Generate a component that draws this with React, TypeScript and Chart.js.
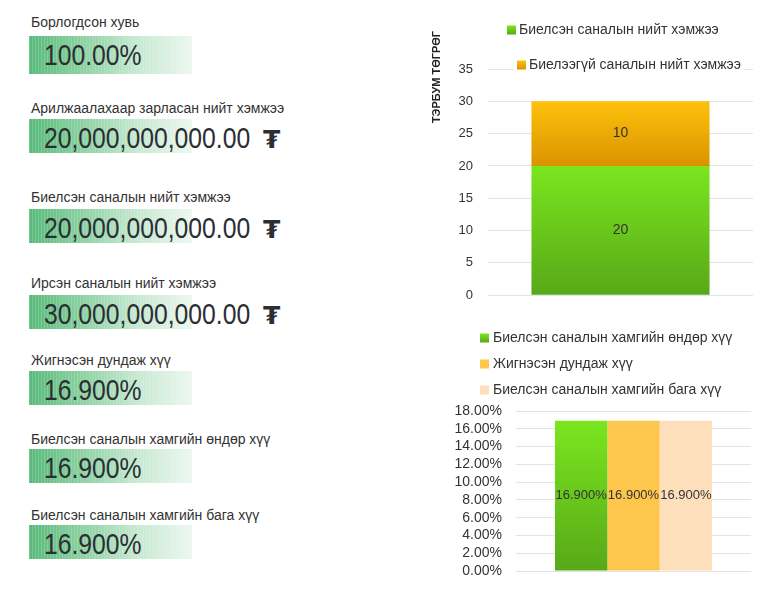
import React, { useEffect, useRef } from 'react';
import { Chart, registerables } from 'chart.js';

Chart.register(...registerables);

const FONT = "'Liberation Sans', Arial, sans-serif";

// ---------- KPI data ----------
const kpiLabels = [
  'Борлогдсон хувь',
  'Арилжаалахаар зарласан нийт хэмжээ',
  'Биелсэн саналын нийт хэмжээ',
  'Ирсэн саналын нийт хэмжээ',
  'Жигнэсэн дундаж хүү',
  'Биелсэн саналын хамгийн өндөр хүү',
  'Биелсэн саналын хамгийн бага хүү',
];
const kpiValues = [
  '100.00%',
  '20,000,000,000.00',
  '20,000,000,000.00',
  '30,000,000,000.00',
  '16.900%',
  '16.900%',
  '16.900%',
];
const kpiUnits = ['', '₮', '₮', '₮', '', '', ''];

// ---------- Chart 1 data (stacked volume) ----------
const volumeCategories = [''];
const volumeAxisTitle = 'ТЭРБУМ ТӨГРӨГ';
const volumeSeriesNames = ['Биелсэн саналын нийт хэмжээ', 'Биелээгүй саналын нийт хэмжээ'];
const fulfilledVolume = [20];
const unfulfilledVolume = [10];
const volumeAxisMax = 35;
const volumeAxisStep = 5;

// ---------- Chart 2 data (rates) ----------
const rateCategories = [''];
const rateSeriesNames = [
  'Биелсэн саналын хамгийн өндөр хүү',
  'Жигнэсэн дундаж хүү',
  'Биелсэн саналын хамгийн бага хүү',
];
const highestRate = [16.9];
const weightedAvgRate = [16.9];
const lowestRate = [16.9];
const rateAxisMax = 18;
const rateAxisStep = 2;

// ---------- layout constants ----------
const KPI_LABEL_BASELINES = [26.7, 113.3, 202.3, 288.3, 365, 444, 520];
const KPI_BOX_TOPS = [36, 119, 209, 295, 371, 449, 525];
const KPI_BOX_HEIGHTS = [38, 34, 34, 34, 34, 34, 34];
const BOX_BG =
  'repeating-linear-gradient(90deg, rgba(255,255,255,0.16) 0px, rgba(255,255,255,0.16) 1px, rgba(255,255,255,0) 1px, rgba(255,255,255,0) 3px), ' +
  'linear-gradient(90deg, rgb(88,186,122) 0%, rgb(135,207,157) 30%, rgb(196,232,208) 65%, rgb(236,247,239) 100%)';

const GREEN_TOP = '#7be61f';
const GREEN_BOTTOM = '#58a818';
const ORANGE_TOP = '#fdc20c';
const ORANGE_BOTTOM = '#da9300';
const YELLOW = '#fec64d';
const PEACH = '#fddfbb';

const C1 = { left: 420, top: 0, width: 354, height: 318 };
const C2 = { left: 420, top: 318, width: 354, height: 277 };

const barGradient = (top: string, bottom: string) => (c: any) => {
  const chart = c.chart;
  const ys = chart.scales && chart.scales.y;
  if (!chart.chartArea || !ys || c.type !== 'data') return top;
  let start = 0;
  if (chart.options.scales.y.stacked) {
    for (let d = 0; d < c.datasetIndex; d++) start += Number(chart.data.datasets[d].data[c.dataIndex]);
  }
  const end = start + Number(c.raw);
  const g = chart.ctx.createLinearGradient(0, ys.getPixelForValue(end), 0, ys.getPixelForValue(start));
  g.addColorStop(0, top);
  g.addColorStop(1, bottom);
  return g;
};

function drawLegend(chart: any, pos: { x: number; y: number }[], tops: string[], bottoms: string[], fontSize: number, gap: number) {
  const ctx = chart.ctx;
  ctx.save();
  ctx.font = `${fontSize}px ${FONT}`;
  ctx.textBaseline = 'middle';
  ctx.textAlign = 'left';
  chart.data.datasets.forEach((ds: any, i: number) => {
    const { x, y } = pos[i];
    const text = ds.label as string;
    const w = ctx.measureText(text).width;
    ctx.fillStyle = '#ffffff';
    ctx.fillRect(x - 3, y - 9, 9 + gap + w + 6, 18);
    const g = ctx.createLinearGradient(0, y - 4.5, 0, y + 4.5);
    g.addColorStop(0, tops[i]);
    g.addColorStop(1, bottoms[i]);
    ctx.fillStyle = g;
    ctx.fillRect(x, y - 4.5, 9, 9);
    ctx.fillStyle = '#333333';
    ctx.fillText(text, x + 9 + gap, y);
  });
  ctx.restore();
}

function drawBarLabels(chart: any, fmt: (v: number) => string, font: string) {
  const ctx = chart.ctx;
  ctx.save();
  ctx.font = font;
  ctx.fillStyle = '#333333';
  ctx.textAlign = 'center';
  ctx.textBaseline = 'middle';
  chart.data.datasets.forEach((ds: any, i: number) => {
    const meta = chart.getDatasetMeta(i);
    meta.data.forEach((el: any, j: number) => {
      const p = el.getProps(['x', 'y', 'base'], true);
      ctx.fillText(fmt(Number(ds.data[j])), p.x, (p.y + p.base) / 2);
    });
  });
  ctx.restore();
}

function VolumeChart() {
  const ref = useRef<HTMLCanvasElement>(null);
  useEffect(() => {
    const overlay = {
      id: 'volumeOverlay',
      afterDraw(chart: any) {
        const ctx = chart.ctx;
        ctx.save();
        ctx.font = `bold 11px ${FONT}`;
        ctx.fillStyle = '#222222';
        ctx.translate(437 - C1.left, 77 - C1.top);
        ctx.rotate(-Math.PI / 2);
        ctx.textAlign = 'center';
        ctx.textBaseline = 'middle';
        ctx.fillText(volumeAxisTitle, 0, 0);
        ctx.restore();
        drawLegend(
          chart,
          [
            { x: 507 - C1.left, y: 30 - C1.top },
            { x: 517 - C1.left, y: 65 - C1.top },
          ],
          [GREEN_TOP, ORANGE_TOP],
          [GREEN_BOTTOM, ORANGE_BOTTOM],
          14,
          3
        );
        drawBarLabels(chart, (v) => String(v), `14px ${FONT}`);
      },
    };
    const chart = new Chart(ref.current!, {
      type: 'bar',
      data: {
        labels: volumeCategories,
        datasets: [
          {
            label: volumeSeriesNames[0],
            data: fulfilledVolume,
            backgroundColor: barGradient(GREEN_TOP, GREEN_BOTTOM) as any,
            categoryPercentage: 1,
            barPercentage: 0.672,
          },
          {
            label: volumeSeriesNames[1],
            data: unfulfilledVolume,
            backgroundColor: barGradient(ORANGE_TOP, ORANGE_BOTTOM) as any,
            categoryPercentage: 1,
            barPercentage: 0.672,
          },
        ],
      },
      options: {
        responsive: false,
        animation: false,
        layout: { padding: { left: 0, top: 69 - C1.top, right: C1.left + C1.width - 753, bottom: C1.top + C1.height - 300 } },
        plugins: { legend: { display: false }, tooltip: { enabled: false } },
        scales: {
          x: { display: false, stacked: true },
          y: {
            stacked: true,
            min: 0,
            max: volumeAxisMax,
            ticks: { stepSize: volumeAxisStep, padding: 15, autoSkip: false, color: '#333333', font: { family: FONT, size: 13 } },
            grid: { color: '#e4e4e4', lineWidth: 1, drawTicks: false },
            border: { display: false },
            afterFit: (scale: any) => {
              scale.width = 488 - C1.left;
            },
          },
        },
      },
      plugins: [overlay],
    });
    return () => chart.destroy();
  }, []);
  return (
    <canvas
      ref={ref}
      width={C1.width}
      height={C1.height}
      style={{ position: 'absolute', left: C1.left, top: C1.top, width: C1.width, height: C1.height }}
    />
  );
}

function RateChart() {
  const ref = useRef<HTMLCanvasElement>(null);
  useEffect(() => {
    const overlay = {
      id: 'rateOverlay',
      afterDraw(chart: any) {
        drawLegend(
          chart,
          [
            { x: 480 - C2.left, y: 338 - C2.top },
            { x: 480 - C2.left, y: 364 - C2.top },
            { x: 480 - C2.left, y: 390 - C2.top },
          ],
          [GREEN_TOP, YELLOW, PEACH],
          [GREEN_BOTTOM, YELLOW, PEACH],
          14,
          4
        );
        drawBarLabels(chart, (v) => v.toFixed(3) + '%', `13px ${FONT}`);
      },
    };
    const common = { categoryPercentage: 0.668, barPercentage: 1 };
    const chart = new Chart(ref.current!, {
      type: 'bar',
      data: {
        labels: rateCategories,
        datasets: [
          { label: rateSeriesNames[0], data: highestRate, backgroundColor: barGradient(GREEN_TOP, GREEN_BOTTOM) as any, ...common },
          { label: rateSeriesNames[1], data: weightedAvgRate, backgroundColor: YELLOW, ...common },
          { label: rateSeriesNames[2], data: lowestRate, backgroundColor: PEACH, ...common },
        ],
      },
      options: {
        responsive: false,
        animation: false,
        layout: { padding: { left: 0, top: 411 - C2.top, right: C2.left + C2.width - 751, bottom: C2.top + C2.height - 571 } },
        plugins: { legend: { display: false }, tooltip: { enabled: false } },
        scales: {
          x: { display: false },
          y: {
            min: 0,
            max: rateAxisMax,
            ticks: {
              stepSize: rateAxisStep,
              padding: 14,
              autoSkip: false,
              color: '#333333',
              font: { family: FONT, size: 14 },
              callback: (v: any) => Number(v).toFixed(2) + '%',
            },
            grid: { color: '#e4e4e4', lineWidth: 1, drawTicks: false },
            border: { display: false },
            afterFit: (scale: any) => {
              scale.width = 516 - C2.left;
            },
          },
        },
      },
      plugins: [overlay],
    });
    return () => chart.destroy();
  }, []);
  return (
    <canvas
      ref={ref}
      width={C2.width}
      height={C2.height}
      style={{ position: 'absolute', left: C2.left, top: C2.top, width: C2.width, height: C2.height }}
    />
  );
}

export default function App() {
  const LABEL_F = 14;
  const NUM_F = 30;
  const UNIT_F = 25;
  return (
    <div
      style={{
        position: 'absolute',
        left: 0,
        top: 0,
        width: 774,
        height: 595,
        overflow: 'hidden',
        background: '#ffffff',
        fontFamily: FONT,
        color: '#333333',
      }}
    >
      {kpiLabels.map((label, i) => (
        <React.Fragment key={i}>
          <div
            style={{
              position: 'absolute',
              left: 31,
              top: KPI_LABEL_BASELINES[i] - 0.8465 * LABEL_F,
              fontSize: LABEL_F,
              lineHeight: `${LABEL_F}px`,
              whiteSpace: 'nowrap',
            }}
          >
            {label}
          </div>
          <div
            style={{
              position: 'absolute',
              left: 29,
              top: KPI_BOX_TOPS[i],
              width: 163,
              height: KPI_BOX_HEIGHTS[i],
              background: BOX_BG,
            }}
          />
          <div
            style={{
              position: 'absolute',
              left: 44,
              top: KPI_BOX_TOPS[i] + 29.3 - 0.8465 * NUM_F,
              fontSize: NUM_F,
              lineHeight: `${NUM_F}px`,
              color: '#2b2f33',
              whiteSpace: 'nowrap',
              transform: 'scaleX(0.824)',
              transformOrigin: 'left center',
            }}
          >
            {kpiValues[i]}
          </div>
          {kpiUnits[i] ? (
            <div
              style={{
                position: 'absolute',
                left: 263,
                top: KPI_BOX_TOPS[i] + 29.3 - 0.846 * UNIT_F,
                fontFamily: "'DejaVu Sans', sans-serif",
                fontWeight: 'bold',
                fontSize: UNIT_F,
                lineHeight: `${UNIT_F}px`,
                color: '#2b2f33',
                whiteSpace: 'nowrap',
              }}
            >
              {kpiUnits[i]}
            </div>
          ) : null}
        </React.Fragment>
      ))}
      <VolumeChart />
      <RateChart />
    </div>
  );
}
